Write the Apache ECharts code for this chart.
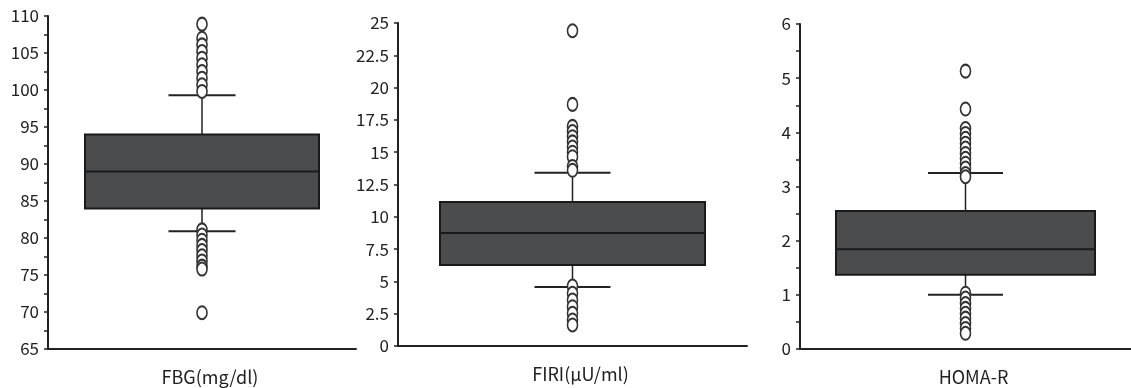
<!DOCTYPE html>
<html>
<head>
<meta charset="utf-8">
<script src="https://cdn.jsdelivr.net/npm/echarts@6/dist/echarts.min.js"></script>
<style>
  html, body { margin: 0; padding: 0; background: #fff; }
  #chart { width: 1131px; height: 388px; }
</style>
</head>
<body>
<div id="chart"></div>
<script>
const categories = ['FBG(mg/dl)', 'FIRI(μU/ml)', 'HOMA-R'];

// [lower whisker, Q1, median, Q3, upper whisker]
const fbgBox = [80.9, 84, 89, 94, 99.3];
const firiBox = [4.57, 6.27, 8.75, 11.15, 13.4];
const homaBox = [1.0, 1.37, 1.84, 2.55, 3.25];

const fbgOutliers = [108.9, 107.0, 106.1, 105.2, 104.3, 103.4, 102.5, 101.6, 100.7, 99.8,
  81.1, 80.4, 79.7, 79.0, 78.3, 77.6, 76.9, 76.2, 75.8, 69.9];
const firiOutliers = [24.4, 18.7, 17.0, 16.6, 16.2, 15.8, 15.4, 15.0, 14.65, 13.9, 13.6,
  4.64, 4.08, 3.56, 3.04, 2.53, 2.01, 1.63];
const homaOutliers = [5.13, 4.43, 4.07, 3.98, 3.89, 3.8, 3.71, 3.61, 3.52, 3.43, 3.34, 3.24, 3.18,
  1.03, 0.94, 0.84, 0.75, 0.66, 0.57, 0.47, 0.38, 0.29];

const yMin = [65, 0, 0];
const yMax = [110, 25, 6];
const yStep = [5, 2.5, 1];
const yMinorSplit = [2, 0, 2];

const boxes = [fbgBox, firiBox, homaBox];
const outliers = [fbgOutliers, firiOutliers, homaOutliers];
const boxWidths = [234, 265, 259];
const whiskerWidths = [67, 76, 75];

const fontFamily = '"Noto Sans CJK JP", "Noto Sans", sans-serif';
const inkColor = '#222';
const boxFill = '#4b4c4e';

const chart = echarts.init(document.getElementById('chart'));

const grids = [
  { left: 48, top: 16, width: 308, height: 333 },
  { left: 398, top: 23, width: 349, height: 323 },
  { left: 800, top: 24, width: 342, height: 325 }
];

// box + whiskers drawn through the axis scales
function makeBoxRenderer(boxW, capW) {
  return function(params, api) {
    let pMin = api.coord([0, api.value(1)]);
    let pQ1 = api.coord([0, api.value(2)]);
    let pMed = api.coord([0, api.value(3)]);
    let pQ3 = api.coord([0, api.value(4)]);
    let pMax = api.coord([0, api.value(5)]);
    let cx = pMed[0];
    let lineStyle = { stroke: inkColor, lineWidth: 1.5 };
    return {
      type: 'group',
      children: [
        { type: 'line', shape: { x1: cx, y1: pMax[1], x2: cx, y2: pQ3[1] }, style: lineStyle },
        { type: 'line', shape: { x1: cx, y1: pQ1[1], x2: cx, y2: pMin[1] }, style: lineStyle },
        { type: 'line', shape: { x1: cx - capW / 2, y1: pMax[1], x2: cx + capW / 2, y2: pMax[1] }, style: { stroke: inkColor, lineWidth: 2 } },
        { type: 'line', shape: { x1: cx - capW / 2, y1: pMin[1], x2: cx + capW / 2, y2: pMin[1] }, style: { stroke: inkColor, lineWidth: 2 } },
        {
          type: 'rect',
          shape: { x: cx - boxW / 2, y: pQ3[1], width: boxW, height: pQ1[1] - pQ3[1] },
          style: { fill: boxFill, stroke: '#1a1a1a', lineWidth: 2 }
        },
        { type: 'line', shape: { x1: cx - boxW / 2, y1: pMed[1], x2: cx + boxW / 2, y2: pMed[1] }, style: { stroke: '#1a1a1a', lineWidth: 2 } }
      ]
    };
  };
}

let xAxes = [];
let yAxes = [];
let series = [];

for (let i = 0; i < 3; i++) {
  xAxes.push({
    gridIndex: i,
    type: 'category',
    data: [categories[i]],
    boundaryGap: true,
    axisLine: { lineStyle: { color: inkColor, width: 2 } },
    axisTick: { alignWithLabel: true, length: 5, lineStyle: { color: inkColor, width: 1.5 } },
    axisLabel: {
      margin: 19,
      fontSize: 18,
      fontFamily: fontFamily,
      color: inkColor,
      padding: [0, 0, 0, 16]
    }
  });
  yAxes.push({
    gridIndex: i,
    type: 'value',
    min: yMin[i],
    max: yMax[i],
    interval: yStep[i],
    splitLine: { show: false },
    axisLine: { show: true, lineStyle: { color: inkColor, width: 2 } },
    axisTick: { show: true, length: 4, lineStyle: { color: inkColor, width: 1.5 } },
    minorTick: {
      show: yMinorSplit[i] > 0,
      splitNumber: yMinorSplit[i] || 5,
      length: 4,
      lineStyle: { color: inkColor, width: 1.5 }
    },
    axisLabel: {
      margin: 9,
      fontSize: 17,
      fontFamily: fontFamily,
      color: inkColor,
      padding: [10, 0, 0, 0]
    }
  });

  const b = boxes[i];
  series.push({
    type: 'custom',
    xAxisIndex: i,
    yAxisIndex: i,
    z: 2,
    renderItem: makeBoxRenderer(boxWidths[i], whiskerWidths[i]),
    encode: { x: 0, y: [1, 2, 3, 4, 5] },
    data: [[0].concat(b)]
  });
  series.push({
    type: 'scatter',
    xAxisIndex: i,
    yAxisIndex: i,
    z: 4,
    symbol: 'circle',
    symbolSize: [10, 13],
    itemStyle: { color: '#fff', borderColor: '#333', borderWidth: 1.8, opacity: 1 },
    data: outliers[i].map(v => [0, v])
  });
}

chart.setOption({
  animation: false,
  grid: grids,
  xAxis: xAxes,
  yAxis: yAxes,
  series: series
});
</script>
</body>
</html>
